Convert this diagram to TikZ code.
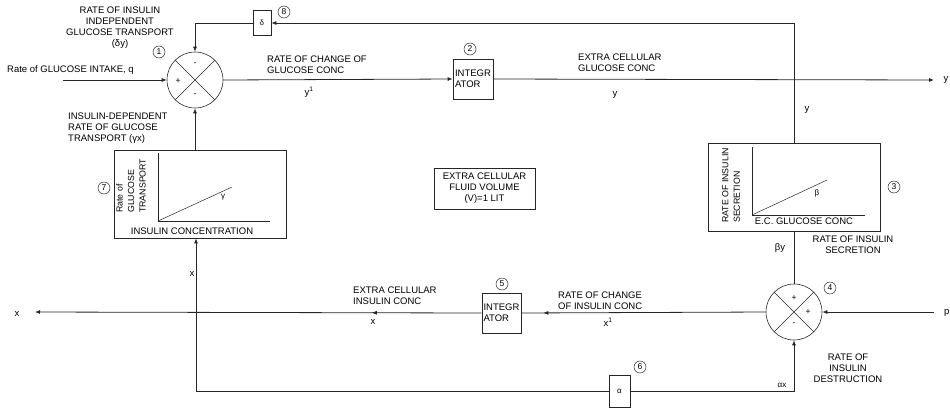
\documentclass[tikz,border=0pt]{standalone}
\usepackage{fontspec}
\setmainfont{Liberation Sans}
\usetikzlibrary{arrows.meta,decorations.markings}
\begin{document}
\begin{tikzpicture}[x=1pt,y=-1pt,
  font=\fontsize{9.5}{11}\selectfont,
  line/.style={draw=black!85, line width=0.8pt},
  arr/.style={line, -{Latex[length=5pt,width=4pt]}},
  midarr/.style={postaction={decorate}, decoration={markings, mark=at position #1 with {\arrow{Latex[length=5pt,width=4pt]}}}},
  sumc/.style={circle, draw=black!85, minimum size=56pt, inner sep=0pt, line width=0.6pt},
  blk/.style={draw=black!85, line width=0.7pt, inner sep=0pt},
  num/.style={circle, draw=black!85, line width=0.5pt, inner sep=0pt, minimum size=12pt, font=\fontsize{8.5}{8}\selectfont},
  lbl/.style={align=center, inner sep=0pt},
  lbll/.style={align=left, inner sep=0pt},
  sgn/.style={inner sep=0pt, font=\fontsize{8.5}{8}\selectfont},
  rot/.style={align=left, inner sep=0pt, rotate=90, anchor=north west, font=\fontsize{8.8}{11.5}\selectfont},
]
\useasboundingbox (0,0) rectangle (950,408);

% summing junctions
\node[sumc] (c1) at (195,80) {};
\draw[line width=0.6pt, black!85] (c1.45) -- (c1.225) (c1.135) -- (c1.-45);
\node[sgn] at (195,64) {-};
\node[sgn] at (178,81) {+};
\node[sgn] at (195,95) {-};
\node[num] (n1) at (159,52) {1};

\node[sumc] (c4) at (794,312) {};
\draw[line width=0.6pt, black!85] (c4.45) -- (c4.225) (c4.135) -- (c4.-45);
\node[sgn] at (794,298) {+};
\node[sgn] at (808,312) {+};
\node[sgn] at (794,324) {-};
\node[num] (n4) at (830,288) {4};

% integrators
\node[blk, minimum width=40pt, minimum height=40pt, align=left, inner sep=1.5pt] (i2) at (473,79) {INTEGR\\ATOR};
\node[num] (n2) at (470,49) {2};
\node[blk, minimum width=39pt, minimum height=40pt, align=left, inner sep=1.5pt] (i5) at (501.5,313) {INTEGR\\ATOR};
\node[num] (n5) at (502,284) {5};

% gains
\node[blk, minimum width=18pt, minimum height=25pt, font=\fontsize{7.5}{8}\selectfont] (d8) at (262,23) {δ};
\node[num] (n8) at (284,12) {8};
\node[blk, minimum width=21pt, minimum height=32pt, font=\fontsize{8}{8}\selectfont] (a6) at (619.5,391) {α};
\node[num] (n6) at (640,367) {6};

% block 7
\node[blk, minimum width=172pt, minimum height=88pt] (b7) at (200,194) {};
\draw[line width=0.8pt, black!85] (158,153) -- (158,221) -- (270,221);
\draw[line width=0.5pt, black!85] (158,221) -- (232,187);
\node[sgn, font=\fontsize{8}{8}\selectfont] at (223,197) {γ};
\node[rot] at (116,213) {Rate of\\GLUCOSE\\TRANSPORT};
\node[lbl] at (192,231) {INSULIN CONCENTRATION};
\node[num] (n7) at (104,188) {7};

% block 3
\node[blk, minimum width=172pt, minimum height=88pt] (b3) at (794,187) {};
\draw[line width=0.8pt, black!85] (752,147) -- (752,215) -- (865,215);
\draw[line width=0.5pt, black!85] (752,215) -- (827,180);
\node[sgn, font=\fontsize{8}{8}\selectfont] at (817,193) {β};
\node[rot] at (722,223) {RATE OF INSULIN\\SECRETION};
\node[lbl] at (804,221) {E.C. GLUCOSE CONC};
\node[num] (n3) at (894,187) {3};

% fluid volume box
\node[blk, minimum width=101pt, minimum height=41pt, align=center] (fv) at (484.5,188.5) {EXTRA CELLULAR\\FLUID VOLUME\\(V)=1 LIT};

% free ends
\coordinate (q) at (63,80);
\coordinate (yo) at (934,80);
\coordinate (p) at (934,312);
\coordinate (xo) at (35,312);
\coordinate (bl) at (196,391);
\coordinate (tr) at (794,23);

% connectors
\draw[arr] (q) -- (c1.west);
\draw[arr] (c1.east) -- (i2.west);
\draw[arr] (i2.east) -- (yo);
\draw[arr] (b3.north) -- (tr) -- (d8.east);
\draw[arr] (d8.west) -| (c1.north);
\draw[arr] (b7.north -| c1) -- (c1.south);
\draw[line] (b3.south) -- (c4.north);
\draw[arr] (p) -- (c4.east);
\draw[line, midarr=0.91] (c4.west) -- (i5.east);
\draw[arr, midarr=0.246] (i5.west) -- (xo);
\draw[arr] (bl) -- (b7.south -| bl);
\draw[line] (bl) -- (a6.west);
\draw[arr] (a6.east) -| (c4.south);

% labels
\node[lbl] at (120,28) {RATE OF INSULIN\\INDEPENDENT\\GLUCOSE TRANSPORT\\(δy)};
\node[lbll, anchor=west] at (7,70) {Rate of GLUCOSE INTAKE, q};
\node[lbll, anchor=west] at (68,128.5) {INSULIN-DEPENDENT\\RATE OF GLUCOSE\\TRANSPORT (γx)};
\node[lbll, anchor=west] at (267,64.5) {RATE OF CHANGE OF\\GLUCOSE CONC};
\node[lbl] at (309,92) {y\textsuperscript{1}};
\node[lbll, anchor=west] at (578,62.5) {EXTRA CELLULAR\\GLUCOSE CONC};
\node[lbl] at (615,95) {y};
\node[lbl] at (946,80) {y};
\node[lbl] at (807,110) {y};
\node[lbl] at (192,274) {x};
\node[lbl] at (17,314) {x};
\node[lbll, anchor=west] at (353,296) {EXTRA CELLULAR\\INSULIN CONC};
\node[lbl] at (373,322) {x};
\node[lbll, anchor=west] at (558,301) {RATE OF CHANGE\\OF INSULIN CONC};
\node[lbl] at (608,322) {x\textsuperscript{1}};
\node[lbl] at (780,248) {βy};
\node[lbl] at (853,245) {RATE OF INSULIN\\SECRETION};
\node[lbl] at (848,368) {RATE OF\\INSULIN\\DESTRUCTION};
\node[lbl, font=\fontsize{8}{8}\selectfont] at (782,385) {αx};
\node[lbll, anchor=west] at (944,313) {p};
\end{tikzpicture}
\end{document}
